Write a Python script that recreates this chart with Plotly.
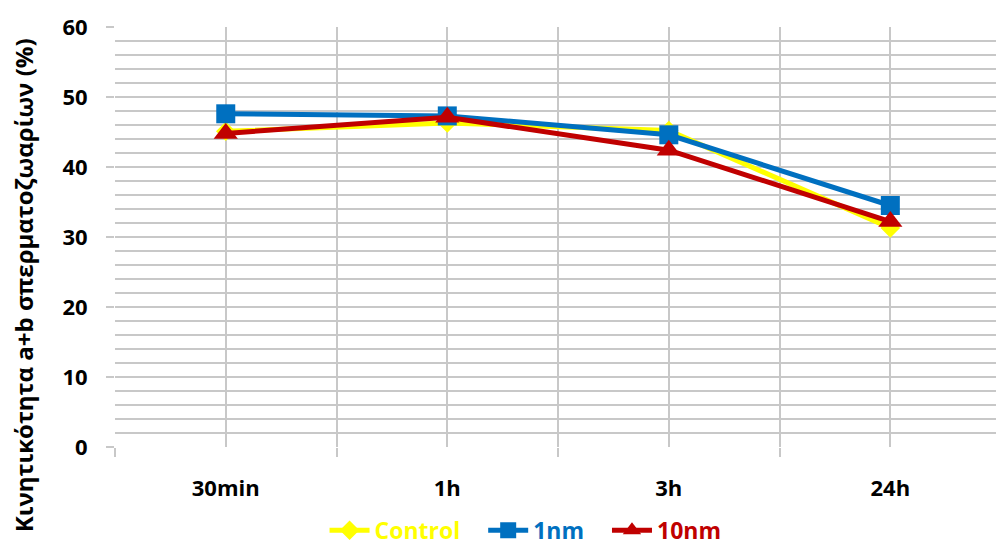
import plotly.graph_objects as go

# Time points and motility values (%) per treatment
time_labels = ["30min", "1h", "3h", "24h"]
control_vals = [45.1, 46.3, 45.2, 31.3]
nm1_vals = [47.6, 47.3, 44.6, 34.5]
nm10_vals = [44.8, 47.1, 42.4, 32.2]

x_pos = list(range(len(time_labels)))

pad = "&nbsp;" * 3

fig = go.Figure()

fig.add_trace(go.Scatter(
    x=x_pos, y=control_vals, mode="lines+markers",
    name="<span style='color:#FFFF00'>Control</span>" + pad,
    line=dict(color="#FFFF00", width=5),
    marker=dict(symbol="diamond", size=15, color="#FFFF00"),
))
fig.add_trace(go.Scatter(
    x=x_pos, y=nm1_vals, mode="lines+markers",
    name="<span style='color:#0070C0'>1nm</span>" + pad,
    line=dict(color="#0070C0", width=5),
    marker=dict(symbol="square", size=19, color="#0070C0"),
))
fig.add_trace(go.Scatter(
    x=x_pos, y=nm10_vals, mode="lines+markers",
    name="<span style='color:#C00000'>10nm</span>",
    line=dict(color="#C00000", width=5),
    marker=dict(symbol="triangle-up", size=21, color="#C00000"),
))

grid_col = "#C8C8C8"
font_fam = "'Open Sans', sans-serif"

fig.update_layout(
    width=996, height=549,
    margin=dict(l=115, r=0, t=27, b=102, autoexpand=False),
    paper_bgcolor="white", plot_bgcolor="white",
    font=dict(family=font_fam, size=22, color="black"),
    showlegend=True,
    legend=dict(
        orientation="h", x=0.466, xanchor="center", y=-0.147, yanchor="top",
        font=dict(family=font_fam, size=23, weight="bold"),
        itemwidth=40, tracegroupgap=0, borderwidth=0,
    ),
    xaxis=dict(
        range=[-0.5, 3.477],
        tickmode="array", tickvals=x_pos, ticktext=time_labels,
        ticks="", showgrid=True, gridcolor=grid_col, gridwidth=2,
        showline=False, zeroline=False,
        ticklabelstandoff=26,
        tickfont=dict(family=font_fam, size=22, color="black", weight="bold"),
        minor=dict(tickmode="array", tickvals=[-0.5, 0.5, 1.5, 2.5, 3.5],
                   ticks="outside", ticklen=9, tickwidth=2, tickcolor=grid_col,
                   showgrid=True, gridcolor=grid_col, gridwidth=2),
    ),
    yaxis=dict(
        range=[0, 60], dtick=10, tick0=0,
        ticks="outside", ticklen=8, tickwidth=2, tickcolor=grid_col,
        showgrid=True, gridcolor=grid_col, gridwidth=2,
        zeroline=False, showline=False,
        ticklabelstandoff=14,
        tickfont=dict(family=font_fam, size=22, color="black", weight="bold"),
        minor=dict(dtick=2, showgrid=True, gridcolor=grid_col, gridwidth=2),
    ),
)

fig.add_annotation(
    text="<b>Κινητικότητα a+b σπερματοζωαρίων (%)</b>",
    xref="paper", yref="paper", x=-(115 - 23) / 881, y=0.385,
    xanchor="center", yanchor="middle", textangle=-90, showarrow=False,
    font=dict(family=font_fam, size=24, color="black"),
)

fig.write_html("out.html")
